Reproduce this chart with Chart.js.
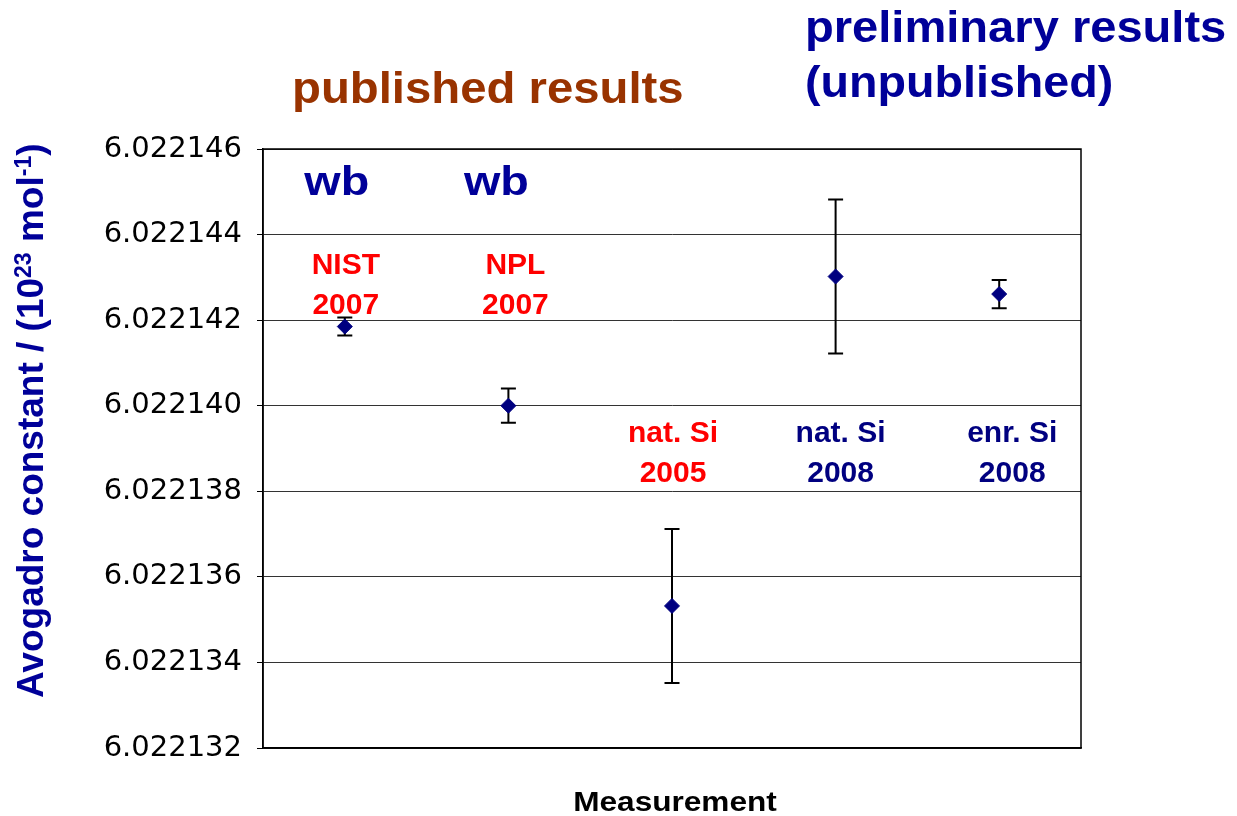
<!DOCTYPE html>
<html>
<head>
<meta charset="utf-8">
<title>Avogadro constant measurements</title>
<script src="https://cdn.jsdelivr.net/npm/chart.js@4.4.1/dist/chart.umd.min.js"></script>
<style>
  html, body { margin: 0; padding: 0; background: #ffffff; }
  canvas { display: block; }
</style>
</head>
<body>
<canvas id="chart" width="1237" height="816"></canvas>
<script>
// ---- data -------------------------------------------------------------
const categories = ['NIST 2007', 'NPL 2007', 'nat. Si 2005', 'nat. Si 2008', 'enr. Si 2008'];
const labelLines = [['NIST', '2007'], ['NPL', '2007'], ['nat. Si', '2005'], ['nat. Si', '2008'], ['enr. Si', '2008']];
const methodTags = ['wb', 'wb', '', '', ''];
const isPublished = [true, true, true, false, false];
// Avogadro constant in 10^23 mol^-1 and its standard uncertainty
const avogadroValues = [6.02214185, 6.02214000, 6.02213532, 6.02214302, 6.02214261];
const uncertainties = [0.00000021, 0.00000040, 0.00000180, 0.00000180, 0.00000033];
const yTickValues = [6.022132, 6.022134, 6.022136, 6.022138, 6.022140, 6.022142, 6.022144, 6.022146];
const yAxisTitle = ['Avogadro constant / (10', '23', ' mol', '-1', ')'];
const xAxisTitle = 'Measurement';
const publishedTitle = 'published results';
const preliminaryTitle = ['preliminary results', '(unpublished)'];

// ---- styling ----------------------------------------------------------
const SANS = '"Liberation Sans", Arial, Helvetica, sans-serif';
const colors = {
  point: '#000080',
  published: '#ff0000',
  preliminary: '#000080',
  tag: '#000099',
  publishedTitle: '#993300',
  preliminaryTitle: '#000099',
  axisTitle: '#000099',
  grid: '#333333',
  frame: '#000000'
};
const layoutBox = { left: 263, right: 1081, top: 149, bottom: 748 };

function drawStretched(ctx, text, x, y, font, color, align, sx) {
  ctx.save();
  ctx.font = font;
  ctx.fillStyle = color;
  ctx.textBaseline = 'alphabetic';
  ctx.textAlign = 'left';
  const w = ctx.measureText(text).width * sx;
  const left = align === 'center' ? x - w / 2 : (align === 'right' ? x - w : x);
  ctx.translate(left, y);
  ctx.scale(sx, 1);
  ctx.fillText(text, 0, 0);
  ctx.restore();
}

// vertical uncertainty bars, drawn beneath the markers
const errorBars = {
  id: 'errorBars',
  beforeDatasetsDraw(chart) {
    const { ctx, scales: { x, y } } = chart;
    ctx.save();
    ctx.strokeStyle = '#000000';
    ctx.lineWidth = 2;
    avogadroValues.forEach((v, i) => {
      const px = x.getPixelForValue(i);
      const top = y.getPixelForValue(v + uncertainties[i]);
      const bot = y.getPixelForValue(v - uncertainties[i]);
      ctx.beginPath();
      ctx.moveTo(px, top); ctx.lineTo(px, bot);
      ctx.moveTo(px - 7.5, top); ctx.lineTo(px + 7.5, top);
      ctx.moveTo(px - 7.5, bot); ctx.lineTo(px + 7.5, bot);
      ctx.stroke();
    });
    ctx.restore();
  }
};

// frame, axis titles, group headings and per-measurement labels
const annotations = {
  id: 'annotations',
  afterDraw(chart) {
    const { ctx, chartArea: a, scales: { x } } = chart;

    ctx.save();
    ctx.strokeStyle = colors.frame;
    ctx.lineWidth = 1.5;
    ctx.strokeRect(a.left, a.top, a.right - a.left, a.bottom - a.top);
    ctx.restore();

    // measurement labels (two lines each)
    const labelFont = 'bold 30px ' + SANS;
    const labelDx = [1, 7, 1, 5, 13];
    labelLines.forEach((lines, i) => {
      const cx = x.getPixelForValue(i) + labelDx[i];
      const color = isPublished[i] ? colors.published : colors.preliminary;
      const base = i < 2 ? a.top + 125 : a.top + 293;
      drawStretched(ctx, lines[0], cx, base, labelFont, color, 'center', 1);
      drawStretched(ctx, lines[1], cx, base + 40, labelFont, color, 'center', 1);
    });

    // method tags
    const tagDx = [-8, -12];
    methodTags.forEach((tag, i) => {
      if (!tag) return;
      const cx = x.getPixelForValue(i) + tagDx[i];
      drawStretched(ctx, tag, cx, a.top + 46, 'bold 40px ' + SANS, colors.tag, 'center', 1.17);
    });

    // group headings
    drawStretched(ctx, publishedTitle, 292, 103, 'bold 44px ' + SANS, colors.publishedTitle, 'left', 1.075);
    drawStretched(ctx, preliminaryTitle[0], 805, 42, 'bold 44px ' + SANS, colors.preliminaryTitle, 'left', 1.07);
    drawStretched(ctx, preliminaryTitle[1], 805, 97, 'bold 44px ' + SANS, colors.preliminaryTitle, 'left', 1.06);

    // x axis title
    drawStretched(ctx, xAxisTitle, (a.left + a.right) / 2 + 3, 811, 'bold 27px ' + SANS, '#000000', 'center', 1.17);

    // y axis title with superscripts, rotated
    ctx.save();
    ctx.translate(43, 698);
    ctx.rotate(-Math.PI / 2);
    ctx.fillStyle = colors.axisTitle;
    ctx.textBaseline = 'alphabetic';
    ctx.textAlign = 'left';
    let pos = 0;
    yAxisTitle.forEach((seg, k) => {
      const sup = k === 1 || k === 3;
      ctx.font = 'bold ' + (sup ? 23 : 37) + 'px ' + SANS;
      ctx.fillText(seg, pos, sup ? -12 : 0);
      pos += ctx.measureText(seg).width;
    });
    ctx.restore();
  }
};

new Chart(document.getElementById('chart'), {
  type: 'line',
  data: {
    labels: categories,
    datasets: [{
      data: avogadroValues,
      showLine: false,
      pointStyle: 'rectRot',
      pointRadius: 7.5,
      pointHoverRadius: 7.5,
      pointBackgroundColor: colors.point,
      pointBorderColor: colors.point,
      pointBorderWidth: 1
    }]
  },
  options: {
    responsive: false,
    animation: false,
    events: [],
    layout: { padding: { top: layoutBox.top, right: 1237 - layoutBox.right, left: 0, bottom: 0 } },
    plugins: { legend: { display: false }, tooltip: { enabled: false }, title: { display: false } },
    scales: {
      x: {
        type: 'category',
        offset: true,
        grid: { display: false, drawTicks: false },
        border: { display: true, color: '#000000', width: 1.5 },
        ticks: { display: false },
        afterFit(scale) {
          scale.height = 816 - layoutBox.bottom;
          scale.paddingLeft = 0; scale.paddingRight = 0;
        }
      },
      y: {
        min: 6.022132,
        max: 6.022146,
        grid: { color: colors.grid, lineWidth: 1, drawTicks: true, tickLength: 6, tickColor: '#000000' },
        border: { display: true, color: '#000000', width: 1.5 },
        ticks: {
          color: '#000000',
          padding: 15,
          font: { family: '"DejaVu Sans", sans-serif', size: 29 },
          callback: (v) => Number(v).toFixed(6)
        },
        afterBuildTicks(scale) {
          scale.ticks = yTickValues.map((v) => ({ value: v }));
        },
        afterFit(scale) {
          scale.width = layoutBox.left;
          scale.paddingTop = 0; scale.paddingBottom = 0;
        }
      }
    }
  },
  plugins: [errorBars, annotations]
});
</script>
</body>
</html>
